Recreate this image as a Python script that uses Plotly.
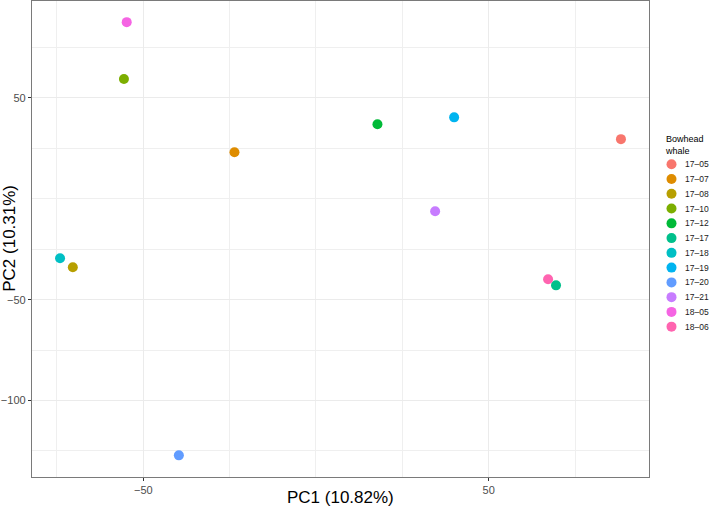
import plotly.graph_objects as go

# ---- data ----
whales = ["17–05", "17–07", "17–08", "17–10", "17–12", "17–17",
          "17–18", "17–19", "17–20", "17–21", "18–05", "18–06"]
pc1 = [88.3, -23.6, -70.4, -55.6, 17.8, 69.5, -74.1, 40.0, -39.7, 34.5, -54.8, 67.2]
pc2 = [29.6, 23.1, -33.9, 59.4, 37.0, -42.9, -29.5, 40.4, -127.2, -6.2, 87.6, -39.9]
colors = ["#F8766D", "#DE8C00", "#B79F00", "#7CAE00", "#00BA38", "#00C08B",
          "#00BFC4", "#00B4F0", "#619CFF", "#C77CFF", "#F564E3", "#FF64B0"]
x_ticks = [-50, 50]
y_ticks = [-100, -50, 50]
x_title = "PC1 (10.82%)"
y_title = "PC2 (10.31%)"
legend_title = "Bowhead<br>whale"

W, H = 709, 508
FONT = "Liberation Sans, Arial, Helvetica, sans-serif"

def expand(v, f=0.05):
    lo, hi = min(v), max(v)
    d = (hi - lo) * f
    return [lo - d, hi + d]

# panel position (pixels)
PL, PR, PT, PB = 32, 649, 0.5, 477
# legend area (pixels)
LG_L = 655

fig = go.Figure()
for w, x, y, c in zip(whales, pc1, pc2, colors):
    fig.add_trace(go.Scatter(x=[x], y=[y], mode="markers", name=w,
                             marker=dict(color=c, size=10, line=dict(width=0)),
                             showlegend=False, xaxis="x", yaxis="y"))

# manual legend on a hidden axis (pixel-like layout coordinates)
LX_MARK, LX_TEXT, LY0, LSTEP = 671.5, 683, 164.3, 14.76
idx = list(range(len(whales)))
fig.add_trace(go.Scatter(x=[LX_MARK] * len(whales), y=idx, mode="markers",
                         marker=dict(color=colors, size=10, line=dict(width=0)),
                         showlegend=False, hoverinfo="skip",
                         xaxis="x2", yaxis="y2", cliponaxis=False))
ann = []
for i, w in enumerate(whales):
    ann.append(dict(x=LX_TEXT, y=i, xref="x2", yref="y2", text=w, showarrow=False,
                    xanchor="left", yanchor="middle",
                    font=dict(family=FONT, size=8.5, color="#1A1A1A")))
ann.append(dict(x=663, y=(145 - LY0) / LSTEP, xref="x2", yref="y2", text=legend_title,
                showarrow=False, xanchor="left", yanchor="middle", align="left",
                font=dict(family=FONT, size=9, color="#000000")))
# axis titles
ann.append(dict(x=(PL + PR) / 2 / W, y=1 - 497 / H, xref="paper", yref="paper",
                text=x_title, showarrow=False, xanchor="center", yanchor="middle",
                font=dict(family=FONT, size=17, color="#000000")))
ann.append(dict(x=10 / W, y=1 - (PT + PB) / 2 / H, xref="paper", yref="paper",
                text=y_title, showarrow=False, textangle=-90,
                xanchor="center", yanchor="middle",
                font=dict(family=FONT, size=17, color="#000000")))

yr2_top = -LY0 / LSTEP
yr2_bot = (H - LY0) / LSTEP

axis_common = dict(showgrid=True, gridcolor="#EBEBEB", gridwidth=1,
                   minor=dict(dtick=25, tick0=0, showgrid=True, gridcolor="#EFEFEF",
                              gridwidth=0.9, ticks=""),
                   zeroline=False, showline=True, mirror=True, linecolor="#7A7A7A",
                   linewidth=1.3, ticks="outside", ticklen=3, tickcolor="#333333",
                   tickwidth=1, tickfont=dict(family=FONT, size=11, color="#4D4D4D"))

fig.update_layout(
    width=W, height=H, margin=dict(l=0, r=0, t=0, b=0),
    paper_bgcolor="white", plot_bgcolor="rgba(0,0,0,0)",
    font=dict(family=FONT),
    xaxis=dict(domain=[PL / W, PR / W], range=expand(pc1), tickvals=x_ticks,
               anchor="y", **axis_common),
    yaxis=dict(domain=[1 - PB / H, 1 - PT / H], range=expand(pc2), tickvals=y_ticks,
               anchor="x", **axis_common),
    xaxis2=dict(domain=[LG_L / W, 1], range=[LG_L, W], visible=False, fixedrange=True,
                anchor="y2"),
    yaxis2=dict(domain=[0, 1], range=[yr2_bot, yr2_top], visible=False, fixedrange=True,
                anchor="x2"),
    annotations=ann,
)
fig.write_html("out.html", config={"displayModeBar": False},
               post_script="document.body.style.margin='0';")
